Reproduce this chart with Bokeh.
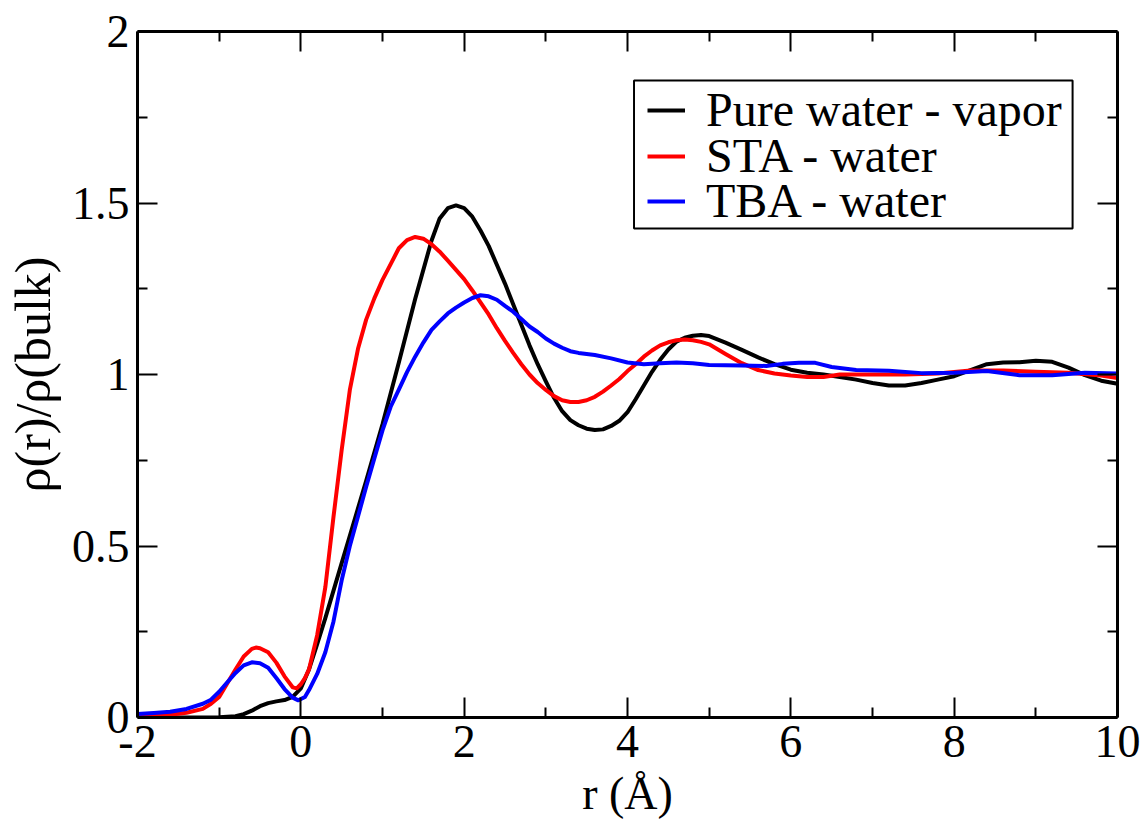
from bokeh.plotting import figure
from bokeh.models import Range1d, LinearAxis, FixedTicker, Legend, LegendItem, BoxAnnotation
from bokeh.embed import file_html
from bokeh.resources import INLINE

# ---------------- data ----------------
water_x = [-2.0, -1.5, -1.0, -0.8, -0.7, -0.6, -0.5, -0.4, -0.3, -0.2, -0.1, 0.0, 0.1, 0.2, 0.3, 0.4,
           0.5, 0.6, 0.8, 1.0, 1.2, 1.4, 1.6, 1.7, 1.8, 1.9, 2.0, 2.1, 2.2, 2.3, 2.4, 2.5, 2.6, 2.7,
           2.8, 2.9, 3.0, 3.1, 3.2, 3.3, 3.4, 3.5, 3.6, 3.7, 3.8, 3.9, 4.0, 4.1, 4.2, 4.3, 4.4, 4.5,
           4.6, 4.7, 4.8, 4.9, 5.0, 5.2, 5.4, 5.6, 5.8, 6.0, 6.2, 6.4, 6.6, 6.8, 7.0, 7.2, 7.4, 7.6,
           7.8, 8.0, 8.2, 8.4, 8.6, 8.8, 9.0, 9.2, 9.4, 9.6, 9.8, 10.0]
water_y = [0.0, 0.0, 0.001, 0.004, 0.01, 0.02, 0.033, 0.042, 0.047, 0.051, 0.06, 0.085, 0.14, 0.214, 0.29, 0.37,
           0.45, 0.53, 0.69, 0.855, 1.035, 1.22, 1.39, 1.455, 1.485, 1.493, 1.485, 1.46, 1.42, 1.375, 1.32, 1.265, 1.205, 1.145,
           1.085, 1.03, 0.98, 0.932, 0.893, 0.867, 0.852, 0.842, 0.838, 0.84, 0.85, 0.865, 0.89, 0.928, 0.968, 1.008, 1.043, 1.073,
           1.096, 1.107, 1.113, 1.115, 1.112, 1.093, 1.072, 1.05, 1.03, 1.014, 1.005, 1.0, 0.993, 0.985, 0.975, 0.968, 0.968, 0.975,
           0.985, 0.995, 1.013, 1.03, 1.035, 1.036, 1.04, 1.037, 1.02, 0.998, 0.982, 0.973]

sta_x = [-2.0, -1.8, -1.6, -1.4, -1.2, -1.1, -1.0, -0.9, -0.8, -0.7, -0.6, -0.55, -0.5, -0.4, -0.3, -0.2, -0.1,
         -0.05, 0.0, 0.05, 0.1, 0.2, 0.3, 0.4, 0.5, 0.6, 0.7, 0.8, 0.9, 1.0, 1.1, 1.2, 1.3, 1.4, 1.5, 1.6,
         1.7, 1.8, 1.9, 2.0, 2.1, 2.2, 2.3, 2.4, 2.5, 2.6, 2.7, 2.8, 2.9, 3.0, 3.1, 3.2, 3.3, 3.4, 3.5,
         3.6, 3.7, 3.8, 3.9, 4.0, 4.1, 4.2, 4.3, 4.4, 4.5, 4.6, 4.7, 4.8, 4.9, 5.0, 5.2, 5.4, 5.6, 5.8,
         6.0, 6.2, 6.4, 6.6, 7.0, 7.4, 7.8, 8.2, 8.6, 9.0, 9.4, 9.8, 10.0]
sta_y = [0.003, 0.005, 0.008, 0.014, 0.025, 0.04, 0.06, 0.1, 0.14, 0.178, 0.2, 0.204, 0.202, 0.19, 0.16, 0.12, 0.088,
         0.085, 0.097, 0.115, 0.14, 0.24, 0.38, 0.585, 0.78, 0.955, 1.075, 1.16, 1.222, 1.276, 1.322, 1.368, 1.392, 1.401, 1.396, 1.38,
         1.358, 1.332, 1.305, 1.278, 1.245, 1.21, 1.175, 1.135, 1.098, 1.063, 1.03, 1.0, 0.975, 0.955, 0.937, 0.925, 0.92, 0.92, 0.925,
         0.935, 0.95, 0.968, 0.987, 1.01, 1.03, 1.052, 1.07, 1.085, 1.094, 1.1, 1.102, 1.1, 1.095, 1.088, 1.06, 1.033, 1.013, 1.003,
         0.997, 0.993, 0.993, 1.0, 1.0, 1.0, 1.003, 1.012, 1.012, 1.008, 1.005, 0.997, 0.99]

tba_x = [-2.0, -1.8, -1.6, -1.4, -1.2, -1.1, -1.0, -0.9, -0.8, -0.7, -0.6, -0.5, -0.4, -0.3, -0.2, -0.1, -0.03,
         0.05, 0.1, 0.2, 0.3, 0.4, 0.5, 0.6, 0.7, 0.8, 0.9, 1.0, 1.1, 1.2, 1.3, 1.4, 1.5, 1.6, 1.7, 1.8,
         1.9, 2.0, 2.1, 2.2, 2.3, 2.4, 2.5, 2.6, 2.7, 2.8, 2.9, 3.0, 3.1, 3.2, 3.3, 3.4, 3.6, 3.8, 4.0,
         4.2, 4.4, 4.6, 4.8, 5.0, 5.4, 5.7, 5.9, 6.1, 6.3, 6.5, 6.8, 7.2, 7.6, 8.0, 8.4, 8.8, 9.2, 9.6, 10.0]
tba_y = [0.01, 0.013, 0.017, 0.025, 0.04, 0.052, 0.075, 0.103, 0.13, 0.152, 0.161, 0.158, 0.145, 0.115, 0.083, 0.058, 0.05,
         0.06, 0.08, 0.127, 0.19, 0.28, 0.4, 0.5, 0.586, 0.673, 0.755, 0.837, 0.906, 0.956, 1.007, 1.052, 1.093, 1.13, 1.155, 1.178,
         1.195, 1.21, 1.223, 1.231, 1.228, 1.218, 1.2, 1.183, 1.162, 1.14, 1.124, 1.105, 1.09, 1.078, 1.068, 1.063, 1.057, 1.047, 1.035,
         1.03, 1.033, 1.035, 1.033, 1.028, 1.026, 1.025, 1.031, 1.034, 1.034, 1.022, 1.013, 1.011, 1.004, 1.005, 1.01, 0.998, 0.998, 1.005, 1.003]

series_names = ["Pure water - vapor", "STA - water", "TBA - water"]
series_colors = ["#000000", "#ff0000", "#0000ff"]

x_ticks = [-2, 0, 2, 4, 6, 8, 10]
x_minor = [-1, 1, 3, 5, 7, 9]
x_tick_labels = ["-2", "0", "2", "4", "6", "8", "10"]
y_ticks = [0, 0.5, 1, 1.5, 2]
y_minor = [0.25, 0.75, 1.25, 1.75]
y_tick_labels = ["0", "0.5", "1", "1.5", "2"]

FONT = "Liberation Serif"

p = figure(width=1146, height=823, output_backend="svg", toolbar_location=None,
           x_range=Range1d(-2, 10), y_range=Range1d(0, 2),
           x_axis_location=None, y_axis_location=None,
           min_border_left=137, min_border_right=29, min_border_top=31, min_border_bottom=106)
p.grid.visible = False
p.outline_line_color = None
p.background_fill_color = "white"
p.border_fill_color = "white"


def style_axis(ax, show):
    ax.axis_line_width = 3
    ax.axis_line_color = "black"
    ax.major_tick_in = 20
    ax.major_tick_out = 0
    ax.minor_tick_in = 10
    ax.minor_tick_out = 0
    ax.major_tick_line_width = 2
    ax.minor_tick_line_width = 2
    ax.major_tick_line_color = "black"
    ax.minor_tick_line_color = "black"
    if show:
        ax.major_label_text_font = FONT
        ax.major_label_text_font_size = "46px"
        ax.major_label_text_color = "black"
        ax.major_label_standoff = 8
        ax.axis_label_text_font = FONT
        ax.axis_label_text_font_style = "normal"
        ax.axis_label_text_color = "black"
    else:
        ax.major_label_text_color = None
        ax.major_label_text_font_size = "1px"
        ax.major_label_standoff = 0


xt = FixedTicker(ticks=x_ticks, minor_ticks=x_minor)
yt = FixedTicker(ticks=y_ticks, minor_ticks=y_minor)

xb = LinearAxis(ticker=xt, axis_label="r (Å)")
xb.major_label_overrides = {t: l for t, l in zip(x_ticks, x_tick_labels)}
style_axis(xb, True)
xb.axis_label_text_font_size = "46px"
xb.axis_label_standoff = 8
p.add_layout(xb, "below")

yl = LinearAxis(ticker=yt, axis_label="ρ(r)/ρ(bulk)")
yl.major_label_overrides = {t: l for t, l in zip(y_ticks, y_tick_labels)}
style_axis(yl, True)
yl.axis_label_text_font_size = "50px"
yl.axis_label_standoff = 8
p.add_layout(yl, "left")

xa = LinearAxis(ticker=xt)
style_axis(xa, False)
p.add_layout(xa, "above")
yr = LinearAxis(ticker=yt)
style_axis(yr, False)
p.add_layout(yr, "right")

renderers = []
for xs, ys, c in [(water_x, water_y, series_colors[0]), (sta_x, sta_y, series_colors[1]), (tba_x, tba_y, series_colors[2])]:
    r = p.line(xs, ys, line_color=c, line_width=4, line_join="round")
    renderers.append(r)

# legend frame
p.add_layout(BoxAnnotation(left=4.08, right=9.45, bottom=1.426, top=1.857,
                           fill_color="white", fill_alpha=1.0,
                           line_color="black", line_width=2, line_alpha=1.0))

# one legend row per series (rows packed tighter than Bokeh's default text box)
row_offsets = [580, 534, 489]
for name, r, yoff in zip(series_names, renderers, row_offsets):
    lg = Legend(items=[LegendItem(label=name, renderers=[r])], location=(510, yoff))
    lg.label_text_font = FONT
    lg.label_text_font_size = "48px"
    lg.label_text_color = "black"
    lg.glyph_width = 38
    lg.label_standoff = 21
    lg.padding = 0
    lg.margin = 0
    lg.spacing = 0
    lg.border_line_color = None
    lg.background_fill_alpha = 0
    p.add_layout(lg, "center")

open("out.html", "w").write(file_html(p, INLINE))
